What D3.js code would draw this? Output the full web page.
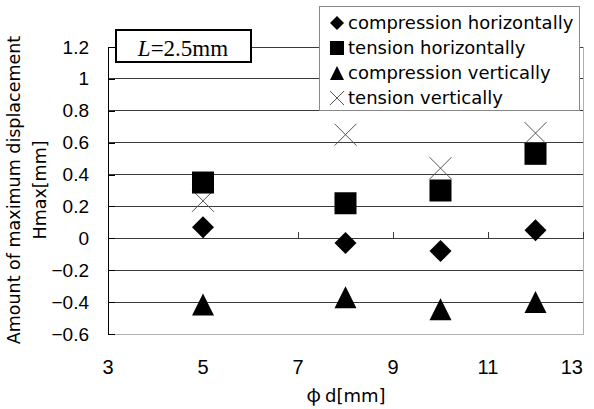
<!DOCTYPE html>
<html><head><meta charset="utf-8">
<script src="https://cdn.jsdelivr.net/npm/d3@7"></script>
<style>body{margin:0;background:#fff}svg{display:block}</style>
</head><body>
<svg id="c" width="594" height="409"></svg>
<script>
const diameters = [5, 8, 10, 12];
const compressionHorizontally = [0.07, -0.03, -0.08, 0.05];
const tensionHorizontally = [0.35, 0.22, 0.30, 0.53];
const compressionVertically = [-0.415, -0.37, -0.445, -0.40];
const tensionVertically = [0.235, 0.65, 0.44, 0.66];
const seriesNames = ["compression horizontally", "tension horizontally", "compression vertically", "tension vertically"];
const xTicks = [3, 5, 7, 9, 11, 13];
const yTicks = [-0.6, -0.4, -0.2, 0, 0.2, 0.4, 0.6, 0.8, 1, 1.2];

const svg = d3.select("#c");
const L = 108, T = 47, W = 475, H = 287;
const x = d3.scaleLinear().domain([3, 13]).range([L, L + W]);
const y = d3.scaleLinear().domain([-0.6, 1.2]).range([T + H, T]);
const FONT = "Liberation Sans, Arial, sans-serif";
const TFONT = "DejaVu Sans, sans-serif";

// grid lines
svg.append("g").selectAll("line").data(yTicks.filter(v => v > -0.6 && v !== 0)).join("line")
  .attr("x1", L).attr("x2", L + W).attr("y1", d => y(d)).attr("y2", d => y(d))
  .attr("stroke", "#3a3a3a").attr("stroke-width", 1).attr("shape-rendering", "crispEdges");
// plot border (right, bottom)
svg.append("path").attr("d", `M${L + W},${y(1.2)}V${y(-0.6)}H${L}`)
  .attr("fill", "none").attr("stroke", "#b0b0b0").attr("shape-rendering", "crispEdges");

// x axis at y=0
const xAxis = d3.axisBottom(x).tickValues(xTicks).tickSize(-6).tickFormat("");
const gx = svg.append("g").attr("transform", `translate(0,${y(0)})`).call(xAxis);
gx.select(".domain").attr("stroke", "#3a3a3a").attr("shape-rendering", "crispEdges");
gx.selectAll(".tick line").attr("stroke", "#3a3a3a").attr("shape-rendering", "crispEdges");

// x tick labels at bottom
svg.append("g").selectAll("text").data(xTicks).join("text")
  .attr("x", d => x(d)).attr("y", 374)
  .attr("text-anchor", (d, i) => i === xTicks.length - 1 ? "end" : "middle")
  .attr("font-family", FONT).attr("font-size", 20).attr("fill", "#000")
  .text(d => d);

// y axis
const yAxis = d3.axisLeft(y).tickValues(yTicks).tickSizeInner(-7).tickSizeOuter(0).tickPadding(19)
  .tickFormat(d => d3.format("")(+d.toFixed(1)).replace("-", "\u2212"));
const gy = svg.append("g").attr("transform", `translate(${L},0)`).call(yAxis);
gy.select(".domain").attr("stroke", "#000").attr("shape-rendering", "crispEdges");
gy.selectAll(".tick line").attr("stroke", "#000").attr("shape-rendering", "crispEdges");
gy.selectAll(".tick text").attr("font-family", FONT).attr("font-size", 19).attr("fill", "#000");

// symbols
const sz = 22;
function drawMarker(g, type, s) {
  const h = s / 2;
  if (type === 0) g.append("path").attr("d", `M0,${-h}L${h},0L0,${h}L${-h},0Z`).attr("fill", "#000");
  else if (type === 1) g.append("rect").attr("x", -h).attr("y", -h).attr("width", s).attr("height", s).attr("fill", "#000");
  else if (type === 2) g.append("path").attr("d", `M0,${-h}L${h},${h}L${-h},${h}Z`).attr("fill", "#000");
  else g.append("path").attr("d", `M${-h},${-h}L${h},${h}M${h},${-h}L${-h},${h}`).attr("stroke", "#555").attr("stroke-width", 1).attr("fill", "none");
}
const series = [compressionHorizontally, tensionHorizontally, compressionVertically, tensionVertically];
const drawOrder = [3, 0, 1, 2];
drawOrder.forEach(si => {
  series[si].forEach((v, i) => {
    const g = svg.append("g").attr("transform", `translate(${x(diameters[i])},${y(v)})`);
    drawMarker(g, si, sz);
  });
});

// legend
const lg = svg.append("g");
lg.append("rect").attr("x", 319.5).attr("y", 6.5).attr("width", 260).attr("height", 104)
  .attr("fill", "#fff").attr("stroke", "#888").attr("stroke-width", 1);
seriesNames.forEach((n, i) => {
  const cy = 23 + i * 25;
  const g = lg.append("g").attr("transform", `translate(337,${cy})`);
  drawMarker(g, i, 14);
  lg.append("text").attr("x", 348).attr("y", cy + 6).attr("font-family", TFONT).attr("font-size", 18)
    .attr("fill", "#000").text(n);
});

// title box
svg.append("rect").attr("x", 116).attr("y", 30).attr("width", 135).attr("height", 32)
  .attr("fill", "#fff").attr("stroke", "#000").attr("stroke-width", 2);
const tt = svg.append("text").attr("x", 183).attr("y", 56).attr("text-anchor", "middle")
  .attr("font-family", "Liberation Serif, Times New Roman, serif").attr("font-size", 23).attr("fill", "#000");
tt.append("tspan").attr("font-style", "italic").text("L");
tt.append("tspan").text("=2.5mm");

// axis titles
const xt = svg.append("text").attr("x", 346).attr("y", 402).attr("text-anchor", "middle")
  .attr("font-family", TFONT).attr("font-size", 18).attr("fill", "#000");
xt.append("tspan").attr("font-family", "Noto Sans CJK JP, sans-serif").attr("font-size", 19).text("\u03c6");
xt.append("tspan").attr("dx", 4).text("d[mm]");
const yt = svg.append("text").attr("transform", "translate(20,190) rotate(-90)").attr("text-anchor", "middle")
  .attr("font-family", TFONT).attr("font-size", 17.5).attr("fill", "#000");
yt.append("tspan").attr("x", 0).attr("y", 0).text("Amount of maximum displacement");
yt.append("tspan").attr("x", 0).attr("y", 26).text("Hmax[mm]");
</script>
</body></html>
